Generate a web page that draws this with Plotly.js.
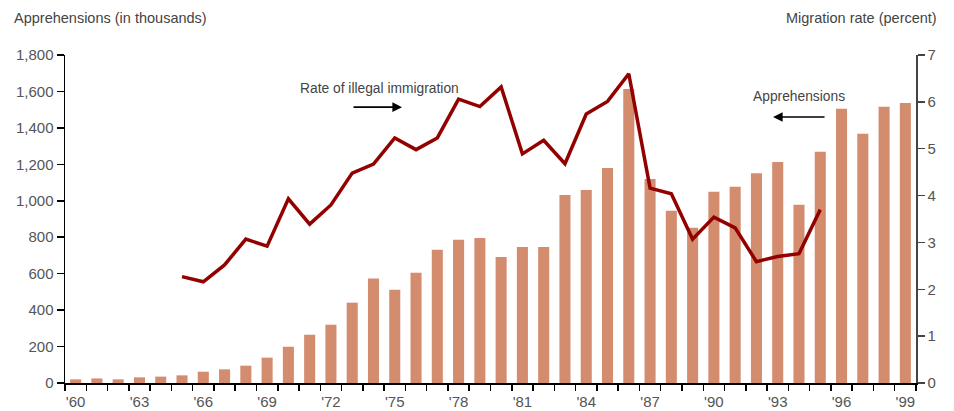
<!DOCTYPE html>
<html>
<head>
<meta charset="utf-8">
<script src="https://cdn.plot.ly/plotly-3.0.1.min.js"></script>
<style>html,body{margin:0;padding:0;background:#fff;}#chart{width:954px;height:411px;}</style>
</head>
<body>
<div id="chart"></div>
<script>
const years = ["1960","1961","1962","1963","1964","1965","1966","1967","1968","1969",
  "1970","1971","1972","1973","1974","1975","1976","1977","1978","1979",
  "1980","1981","1982","1983","1984","1985","1986","1987","1988","1989",
  "1990","1991","1992","1993","1994","1995","1996","1997","1998","1999"];
const tickLabels = ["'60","","","'63","","","'66","","","'69",
  "","","'72","","","'75","","","'78","",
  "","'81","","","'84","","","'87","","",
  "'90","","","'93","","","'96","","","'99"];
const apprehensions = [20,25,20,31,35,42,62,75,95,139,
  199,265,320,441,573,512,605,731,786,796,
  692,747,747,1032,1059,1180,1614,1120,945,852,
  1050,1077,1151,1213,978,1269,1505,1368,1516,1537];
const rateYears = ["1965","1966","1967","1968","1969","1970","1971","1972","1973","1974",
  "1975","1976","1977","1978","1979","1980","1981","1982","1983","1984",
  "1985","1986","1987","1988","1989","1990","1991","1992","1993","1994","1995"];
const migrationRate = [2.27,2.16,2.52,3.07,2.92,3.93,3.39,3.80,4.48,4.67,
  5.23,4.98,5.23,6.06,5.90,6.32,4.89,5.18,4.68,5.74,
  6.01,6.60,4.16,4.04,3.07,3.54,3.31,2.59,2.70,2.76,3.70];

const FONT = "'Liberation Sans', Arial, Helvetica, sans-serif";
const traces = [
  {type:'bar', x:years, y:apprehensions, width:0.52,
   marker:{color:'#d48c6e'}, hoverinfo:'skip', name:'Apprehensions'},
  {type:'scatter', mode:'lines', x:rateYears, y:migrationRate, yaxis:'y2',
   line:{color:'#920000', width:3.5}, hoverinfo:'skip', name:'Rate'}
];
const tickFont = {family:FONT, size:15, color:'#555'};
const layout = {
  width:954, height:411,
  margin:{l:65, r:38, t:55, b:28},
  paper_bgcolor:'#fff', plot_bgcolor:'#fff',
  showlegend:false,
  font:{family:FONT, size:15, color:'#555'},
  xaxis:{type:'category', categoryorder:'array', categoryarray:years,
    range:[-0.5,39.5], tickvals:years, ticktext:tickLabels, tickangle:0,
    tickson:'boundaries', ticks:'outside', ticklen:6, tickcolor:'#000', tickwidth:1.5,
    ticklabelstandoff:4,
    showline:true, linecolor:'#000', linewidth:1.5, showgrid:false, zeroline:false,
    tickfont:tickFont},
  yaxis:{range:[0,1800], dtick:200, tickformat:',d', ticks:'outside', ticklen:7,
    tickcolor:'#000', tickwidth:1.5, showline:true, linecolor:'#000', linewidth:1.5,
    showgrid:false, zeroline:false, tickfont:tickFont},
  yaxis2:{range:[0,7], dtick:1, overlaying:'y', side:'right', ticks:'outside', ticklen:7,
    tickcolor:'#444', tickwidth:1.5, showline:true, linecolor:'#444', linewidth:1.5,
    showgrid:false, zeroline:false, tickfont:tickFont},
  annotations:[
    {xref:'paper', yref:'paper', x:-0.0623, y:1.113, xanchor:'left', yanchor:'middle',
     text:'Apprehensions (in thousands)', showarrow:false, font:{family:FONT, size:14.5, color:'#444'}},
    {xref:'paper', yref:'paper', x:1.027, y:1.113, xanchor:'right', yanchor:'middle',
     text:'Migration rate (percent)', showarrow:false, font:{family:FONT, size:14.5, color:'#444'}},
    {xref:'paper', yref:'paper', x:0.274, y:0.899, xanchor:'left', yanchor:'middle',
     text:'Rate of illegal immigration', showarrow:false, font:{family:FONT, size:13.8, color:'#444'}},
    {xref:'paper', yref:'paper', x:0.806, y:0.872, xanchor:'left', yanchor:'middle',
     text:'Apprehensions', showarrow:false, font:{family:FONT, size:13.8, color:'#444'}},
    {xref:'paper', yref:'paper', x:0.396, y:0.841, text:'', showarrow:true,
     axref:'pixel', ayref:'pixel', ax:-50, ay:0, arrowhead:2, arrowsize:1.2, arrowwidth:1.6, arrowcolor:'#000'},
    {xref:'paper', yref:'paper', x:0.832, y:0.811, text:'', showarrow:true,
     axref:'pixel', ayref:'pixel', ax:53, ay:0, arrowhead:2, arrowsize:1.2, arrowwidth:1.6, arrowcolor:'#000'}
  ]
};
Plotly.newPlot('chart', traces, layout, {displayModeBar:false, staticPlot:true});
</script>
</body>
</html>
